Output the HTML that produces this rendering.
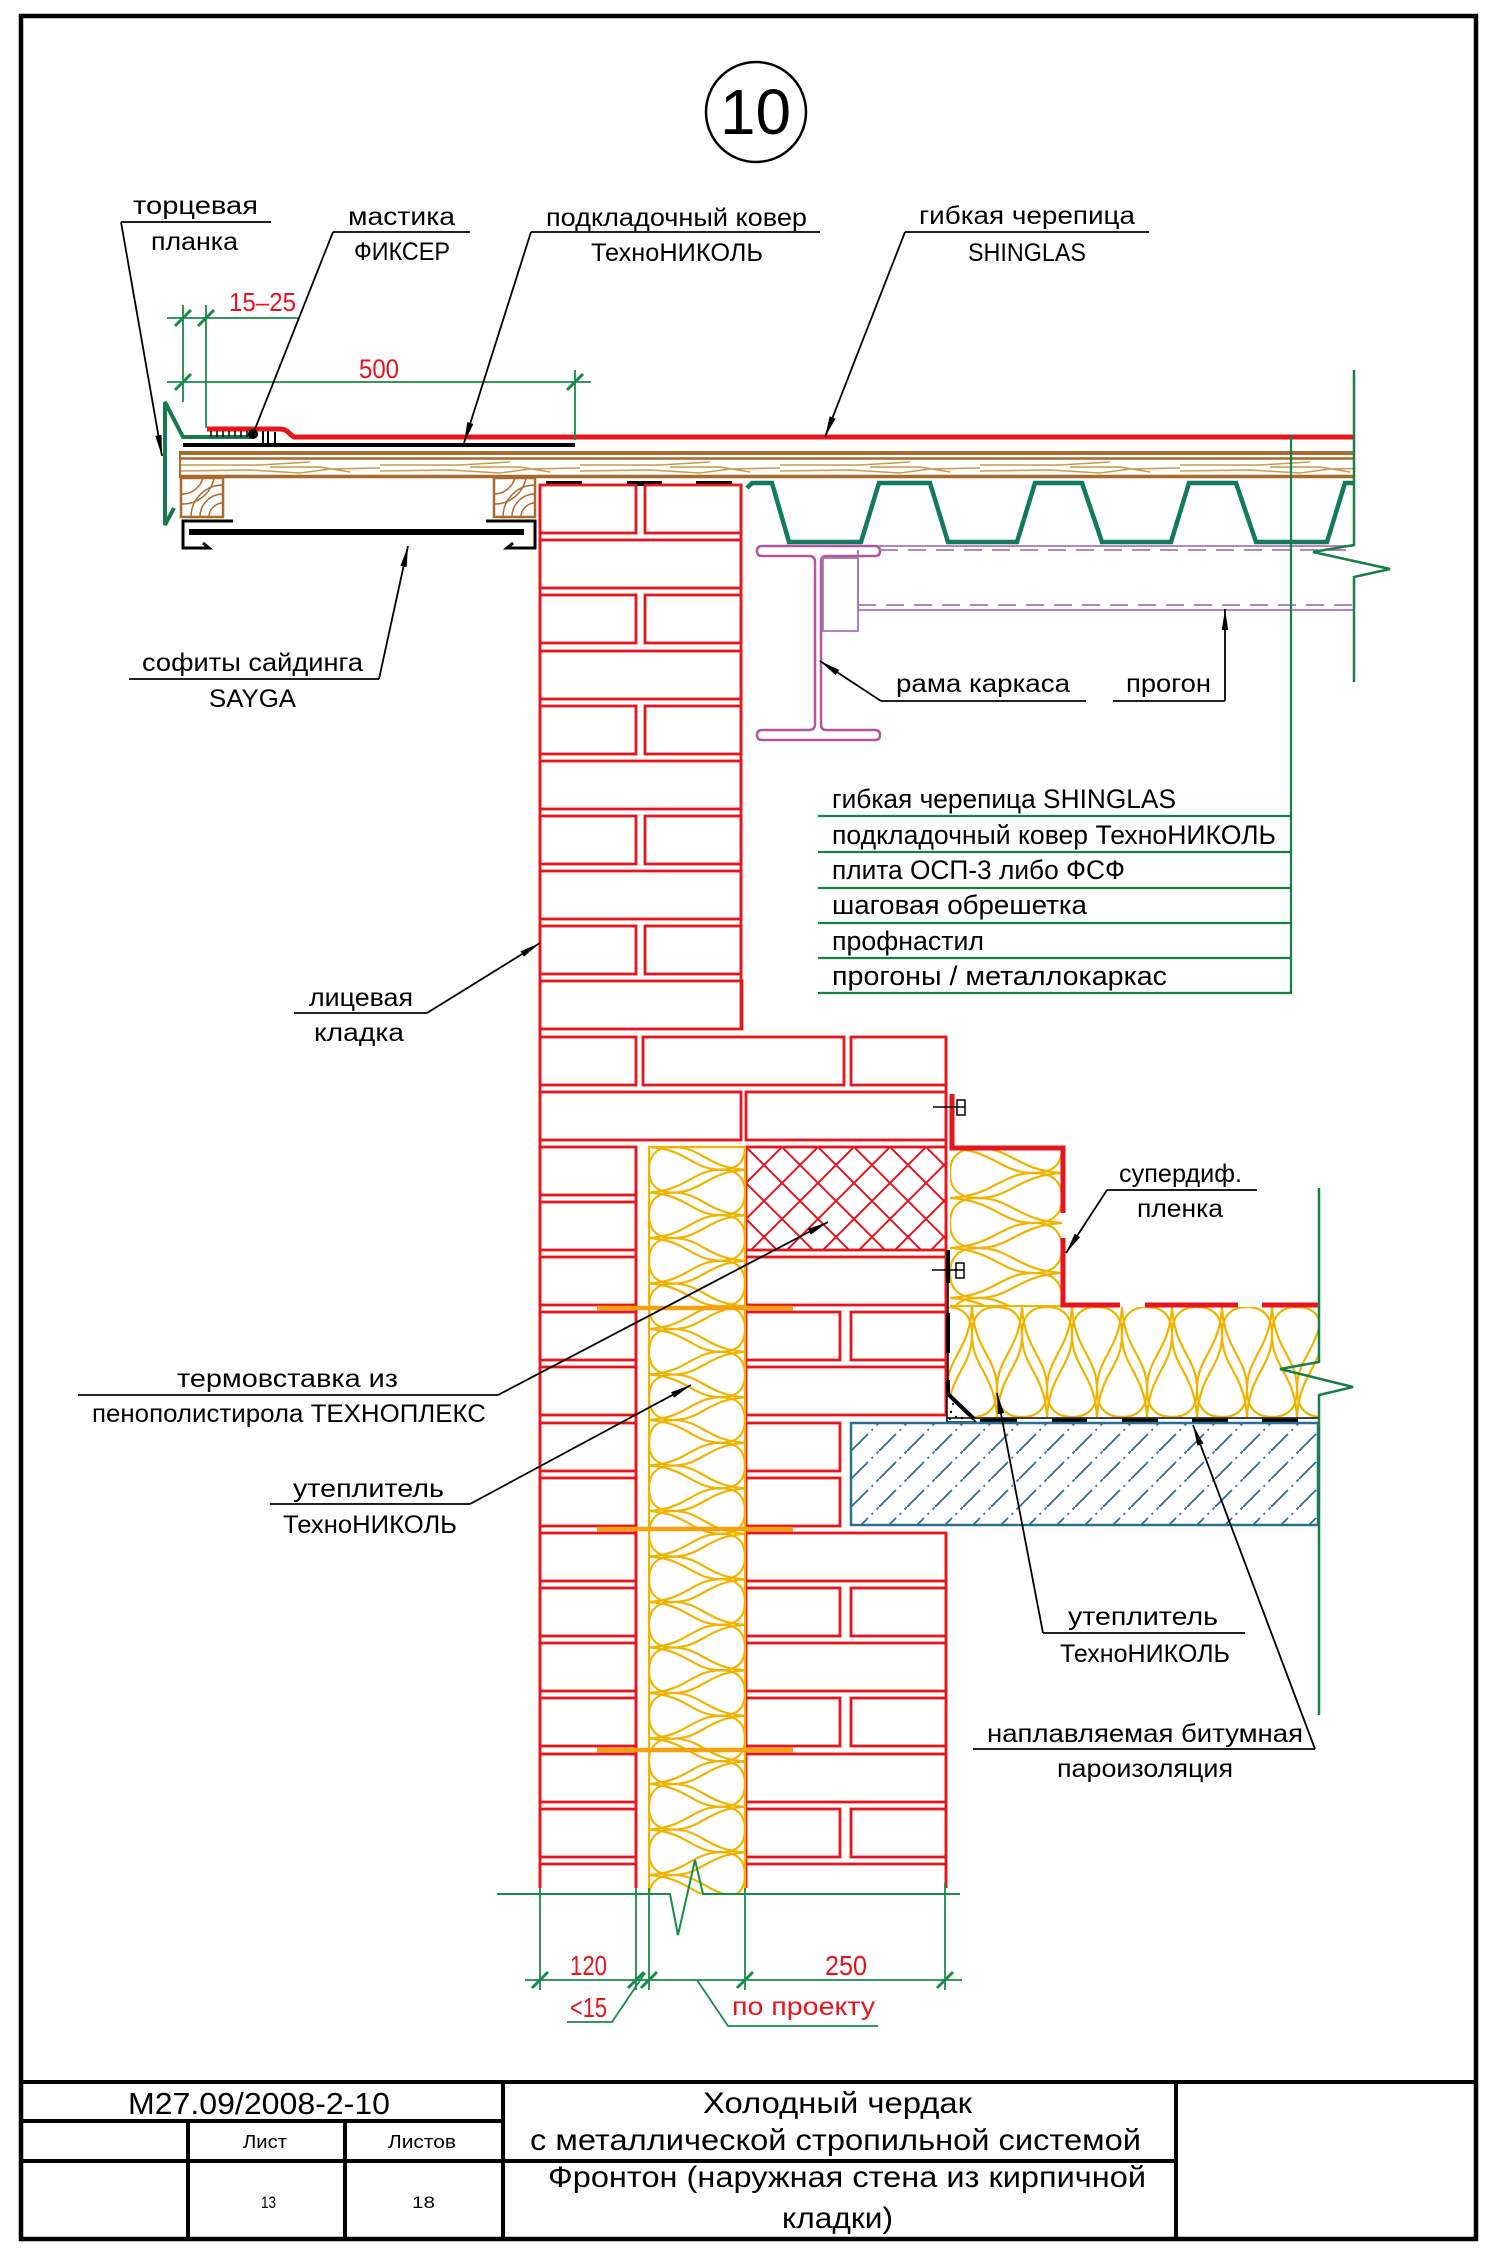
<!DOCTYPE html>
<html><head><meta charset="utf-8"><style>
html,body{margin:0;padding:0;background:#fff;}
svg{display:block;}
text{font-family:"Liberation Sans","DejaVu Sans",sans-serif;}
</style></head><body>
<svg xmlns="http://www.w3.org/2000/svg" width="1491" height="2255" viewBox="0 0 1491 2255">
<defs>
<marker id="ar" markerUnits="userSpaceOnUse" markerWidth="22" markerHeight="8" refX="21" refY="4" orient="auto"><path d="M0,0.8 L21,4 L0,7.2 Z" fill="#000"/></marker>
<path id="lb" d="M1,0 C0.6,-0.05 0.55,-0.5 0.25,-0.5 C0.05,-0.5 0,-0.25 0,0 C0,0.25 0.05,0.5 0.25,0.5 C0.55,0.5 0.6,0.05 1,0" fill="none" stroke="#f0b400" stroke-width="2.2" vector-effect="non-scaling-stroke"/>
<pattern id="xps" patternUnits="userSpaceOnUse" x="746" y="1147" width="36" height="36"><path d="M0,0L36,36M36,0L0,36" stroke="#e8141c" stroke-width="2"/></pattern>
<pattern id="conc" patternUnits="userSpaceOnUse" x="851" y="1423" width="28" height="28"><path d="M0,28L28,0" stroke="#2a6e96" stroke-width="1.8" stroke-dasharray="24 5 2 5"/></pattern>
<pattern id="grain" patternUnits="userSpaceOnUse" x="180" y="459" width="200" height="18"><path d="M0,6 L80,6 L130,3 M0,12 L70,11 L120,14 L150,10 L200,9 M90,8 L140,8 L170,13" stroke="#c9994f" stroke-width="1.6" fill="none"/></pattern>
<clipPath id="cA"><rect x="649" y="1147" width="96" height="747"/></clipPath>
<clipPath id="cB"><rect x="950" y="1148" width="112" height="157"/></clipPath>
<clipPath id="cC"><rect x="948" y="1307" width="370" height="110"/></clipPath>
</defs>
<rect width="1491" height="2255" fill="#fff"/>

<!-- frame -->
<rect x="21" y="16" width="1455" height="2223" fill="none" stroke="#000" stroke-width="4.5"/>

<!-- circle 10 -->
<circle cx="756" cy="112" r="50" fill="none" stroke="#000" stroke-width="2.5"/>
<text x="720" y="134" font-size="64" textLength="71" lengthAdjust="spacingAndGlyphs">10</text>

<!-- ===== ROOF ===== -->
<!-- wood board -->
<rect x="180" y="459" width="1174" height="17" fill="url(#grain)"/>
<g stroke="#a86b2d" fill="none">
<line x1="180" y1="453" x2="1354" y2="453" stroke-width="4"/>
<line x1="180" y1="458.5" x2="1354" y2="458.5" stroke-width="2.5"/>
<line x1="180" y1="476.5" x2="1354" y2="476.5" stroke-width="3.5"/>
<line x1="180" y1="451" x2="180" y2="478" stroke-width="2"/>
<!-- battens -->
<rect x="181" y="478" width="42" height="39" stroke-width="2.5"/>
<path d="M223,485 A32,32 0 0 0 191,517 M223,494 A23,23 0 0 0 200,517 M223,503 A14,14 0 0 0 209,517 M214,478 A32,32 0 0 1 181,504 M203,478 A22,22 0 0 1 181,494" stroke-width="1.5"/>
<rect x="494" y="478" width="41" height="39" stroke-width="2.5"/>
<path d="M535,485 A32,32 0 0 0 503,517 M535,494 A23,23 0 0 0 512,517 M535,503 A14,14 0 0 0 521,517 M526,478 A32,32 0 0 1 494,504 M515,478 A22,22 0 0 1 494,494" stroke-width="1.5"/>
</g>
<!-- underlay black -->
<line x1="183" y1="445" x2="575" y2="445" stroke="#000" stroke-width="4"/>
<!-- green flashing -->
<path d="M174,508 L165,525 L165,402 L183,437 L254,437" fill="none" stroke="#167a4a" stroke-width="4" stroke-linejoin="miter"/>
<!-- mastic + shingle red -->
<path d="M207,429 L280,429 Q286,429 290,434 L294,437 L1354,437" fill="none" stroke="#e8141c" stroke-width="5"/>
<g stroke="#000" stroke-width="1.5">
<line x1="211" y1="431" x2="211" y2="437"/><line x1="217" y1="431" x2="217" y2="437"/><line x1="223" y1="431" x2="223" y2="437"/><line x1="229" y1="431" x2="229" y2="437"/><line x1="235" y1="431" x2="235" y2="437"/><line x1="241" y1="431" x2="241" y2="437"/><line x1="247" y1="431" x2="247" y2="437"/>
<line x1="263" y1="431" x2="263" y2="444" stroke-width="2"/><line x1="268" y1="431" x2="268" y2="444" stroke-width="2"/><line x1="275" y1="432" x2="275" y2="444" stroke-width="2"/>
</g>
<circle cx="253" cy="434" r="5" fill="#000"/>
<!-- soffit -->
<line x1="189" y1="532" x2="524" y2="532" stroke="#000" stroke-width="6"/>
<path d="M233,521 L183,521 L183,548 L209,548 L203,543 M486,521 L535,521 L535,548 L507,548 L513,543" fill="none" stroke="#000" stroke-width="3"/>
<!-- pads on brick -->
<rect x="546" y="481" width="36" height="5" fill="#000"/>
<rect x="627" y="481" width="35" height="5" fill="#000"/>
<rect x="696" y="481" width="36" height="5" fill="#000"/>

<!-- profiled deck -->
<path d="M747,488 L752,483 L772,483 L789,542 L861,542 L879,483 L930,483 L948,542 L1017,542 L1035,483 L1082,483 L1102,542 L1171,542 L1189,483 L1236,483 L1256,542 L1327,542 L1345,483 L1354,483" fill="none" stroke="#137a5e" stroke-width="4.5"/>

<!-- I-beam and purlin -->
<g fill="none" stroke="#b2579f" stroke-width="2.5">
<path d="M762,546 L875,546 Q880,546 880,551 Q880,556 875,556 L826,556 Q821,556 821,562 L821,724 Q821,730 826,730 L875,730 Q880,730 880,735 Q880,740 875,740 L762,740 Q757,740 757,735 Q757,730 762,730 L809,730 Q815,730 815,724 L815,562 Q815,556 809,556 L762,556 Q757,556 757,551 Q757,546 762,546 Z"/>
</g>
<g fill="none" stroke="#a874b4" stroke-width="1.8">
<line x1="879" y1="546" x2="1354" y2="546"/>
<line x1="880" y1="550" x2="1354" y2="550" stroke-dasharray="18 10"/>
<line x1="858" y1="605" x2="1354" y2="605" stroke-dasharray="18 10"/>
<line x1="858" y1="610" x2="1354" y2="610"/>
<rect x="823" y="558" width="35" height="73"/>
<line x1="858" y1="550" x2="858" y2="612"/>
</g>

<!-- right green break line roof -->
<path d="M1354,370 L1354,545 L1313,552 L1390,569 L1354,577 L1354,682" fill="none" stroke="#178048" stroke-width="2.5"/>
<!-- list leader vertical -->
<line x1="1291" y1="435" x2="1291" y2="994" stroke="#178048" stroke-width="2.2"/>
<g stroke="#178048" stroke-width="2.2">
<line x1="818" y1="816" x2="1291" y2="816"/>
<line x1="818" y1="852" x2="1291" y2="852"/>
<line x1="818" y1="888" x2="1291" y2="888"/>
<line x1="818" y1="923" x2="1291" y2="923"/>
<line x1="818" y1="958" x2="1291" y2="958"/>
<line x1="818" y1="993" x2="1291" y2="993"/>
</g>
<g font-size="27" fill="#000">
<text x="832" y="808" textLength="344" lengthAdjust="spacingAndGlyphs">гибкая черепица SHINGLAS</text>
<text x="832" y="844" textLength="444" lengthAdjust="spacingAndGlyphs">подкладочный ковер ТехноНИКОЛЬ</text>
<text x="832" y="879" textLength="293" lengthAdjust="spacingAndGlyphs">плита ОСП-3 либо ФСФ</text>
<text x="832" y="914" textLength="255" lengthAdjust="spacingAndGlyphs">шаговая обрешетка</text>
<text x="832" y="950" textLength="152" lengthAdjust="spacingAndGlyphs">профнастил</text>
<text x="832" y="985" textLength="335" lengthAdjust="spacingAndGlyphs">прогоны / металлокаркас</text>
</g>

<!-- top dimensions -->
<g stroke="#178a4c" stroke-width="1.8" fill="none">
<line x1="167" y1="318" x2="299" y2="318"/>
<line x1="167" y1="382" x2="591" y2="382"/>
<line x1="183" y1="305" x2="183" y2="402"/>
<line x1="206" y1="305" x2="206" y2="428"/>
<line x1="575" y1="370" x2="575" y2="440"/>
</g>
<g stroke="#178a4c" stroke-width="3">
<line x1="175" y1="326" x2="191" y2="310"/><line x1="198" y1="326" x2="214" y2="310"/>
<line x1="175" y1="390" x2="191" y2="374"/><line x1="567" y1="390" x2="583" y2="374"/>
</g>
<text x="229" y="311" font-size="26" fill="#e8141c" textLength="67" lengthAdjust="spacingAndGlyphs">15–25</text>
<text x="359" y="378" font-size="27" fill="#e8141c" textLength="40" lengthAdjust="spacingAndGlyphs">500</text>

<!-- ===== WALL ===== -->
<g fill="none" stroke="#e8141c" stroke-width="2.8">
<!-- upper wall -->
<rect x="540" y="485" width="96" height="48"/><rect x="645" y="485" width="96" height="48"/>
<rect x="540" y="540" width="201" height="48"/>
<rect x="540" y="595" width="96" height="48"/><rect x="645" y="595" width="96" height="48"/>
<rect x="540" y="651" width="201" height="48"/>
<rect x="540" y="706" width="96" height="48"/><rect x="645" y="706" width="96" height="48"/>
<rect x="540" y="761" width="201" height="48"/>
<rect x="540" y="816" width="96" height="48"/><rect x="645" y="816" width="96" height="48"/>
<rect x="540" y="871" width="201" height="48"/>
<rect x="540" y="926" width="96" height="48"/><rect x="645" y="926" width="96" height="48"/>
<rect x="540" y="981" width="202" height="48"/>
<rect x="540" y="1037" width="96" height="48"/><rect x="643" y="1037" width="201" height="48"/><rect x="851" y="1037" width="95" height="48"/>
<rect x="540" y="1092" width="201" height="48"/><rect x="746" y="1092" width="200" height="48"/>
<!-- left column -->
<rect x="540" y="1147" width="96" height="48"/>
<rect x="540" y="1202" width="96" height="48"/>
<rect x="540" y="1257" width="96" height="48"/>
<rect x="540" y="1312" width="96" height="48"/>
<rect x="540" y="1367" width="96" height="48"/>
<rect x="540" y="1423" width="96" height="48"/>
<rect x="540" y="1478" width="96" height="48"/>
<rect x="540" y="1533" width="96" height="48"/>
<rect x="540" y="1588" width="96" height="48"/>
<rect x="540" y="1643" width="96" height="48"/>
<rect x="540" y="1698" width="96" height="48"/>
<rect x="540" y="1754" width="96" height="48"/>
<rect x="540" y="1809" width="96" height="48"/>
<path d="M540,1888 L540,1864 L636,1864 L636,1888"/>
<!-- right column -->
<rect x="746" y="1257" width="200" height="48"/>
<rect x="746" y="1312" width="94" height="48"/><rect x="851" y="1312" width="95" height="48"/>
<rect x="746" y="1367" width="200" height="48"/>
<rect x="746" y="1423" width="94" height="48"/>
<rect x="746" y="1478" width="94" height="48"/>
<rect x="746" y="1533" width="200" height="48"/>
<rect x="746" y="1588" width="94" height="48"/><rect x="851" y="1588" width="95" height="48"/>
<rect x="746" y="1643" width="200" height="48"/>
<rect x="746" y="1698" width="94" height="48"/><rect x="851" y="1698" width="95" height="48"/>
<rect x="746" y="1754" width="200" height="48"/>
<rect x="746" y="1809" width="94" height="48"/><rect x="851" y="1809" width="95" height="48"/>
<path d="M746,1888 L746,1864 L946,1864 L946,1888"/>
<!-- continuous edges -->
<line x1="540" y1="485" x2="540" y2="1888"/>
<line x1="741" y1="485" x2="741" y2="1029"/>
<line x1="636" y1="1147" x2="636" y2="1888"/>
<line x1="746" y1="1147" x2="746" y2="1888"/>
<line x1="946" y1="1037" x2="946" y2="1416"/>
<line x1="946" y1="1533" x2="946" y2="1888"/>
</g>
<!-- XPS block -->
<rect x="746" y="1147" width="200" height="103" fill="url(#xps)" stroke="#e8141c" stroke-width="2.8"/>

<!-- wall insulation strip -->
<g clip-path="url(#cA)">
<use href="#lb" transform="translate(649,1169.8) scale(96,45.5)"/>
<use href="#lb" transform="translate(649,1215.3) scale(96,45.5)"/>
<use href="#lb" transform="translate(649,1260.8) scale(96,45.5)"/>
<use href="#lb" transform="translate(649,1306.3) scale(96,45.5)"/>
<use href="#lb" transform="translate(649,1351.8) scale(96,45.5)"/>
<use href="#lb" transform="translate(649,1397.3) scale(96,45.5)"/>
<use href="#lb" transform="translate(649,1442.8) scale(96,45.5)"/>
<use href="#lb" transform="translate(649,1488.3) scale(96,45.5)"/>
<use href="#lb" transform="translate(649,1533.8) scale(96,45.5)"/>
<use href="#lb" transform="translate(649,1579.3) scale(96,45.5)"/>
<use href="#lb" transform="translate(649,1624.8) scale(96,45.5)"/>
<use href="#lb" transform="translate(649,1670.3) scale(96,45.5)"/>
<use href="#lb" transform="translate(649,1715.8) scale(96,45.5)"/>
<use href="#lb" transform="translate(649,1761.3) scale(96,45.5)"/>
<use href="#lb" transform="translate(649,1806.8) scale(96,45.5)"/>
<use href="#lb" transform="translate(649,1852.3) scale(96,45.5)"/>
<use href="#lb" transform="translate(649,1897.8) scale(96,45.5)"/>
<use href="#lb" transform="translate(745,1147) scale(-96,45.5)"/>
<use href="#lb" transform="translate(745,1192.5) scale(-96,45.5)"/>
<use href="#lb" transform="translate(745,1238) scale(-96,45.5)"/>
<use href="#lb" transform="translate(745,1283.5) scale(-96,45.5)"/>
<use href="#lb" transform="translate(745,1329) scale(-96,45.5)"/>
<use href="#lb" transform="translate(745,1374.5) scale(-96,45.5)"/>
<use href="#lb" transform="translate(745,1420) scale(-96,45.5)"/>
<use href="#lb" transform="translate(745,1465.5) scale(-96,45.5)"/>
<use href="#lb" transform="translate(745,1511) scale(-96,45.5)"/>
<use href="#lb" transform="translate(745,1556.5) scale(-96,45.5)"/>
<use href="#lb" transform="translate(745,1602) scale(-96,45.5)"/>
<use href="#lb" transform="translate(745,1647.5) scale(-96,45.5)"/>
<use href="#lb" transform="translate(745,1693) scale(-96,45.5)"/>
<use href="#lb" transform="translate(745,1738.5) scale(-96,45.5)"/>
<use href="#lb" transform="translate(745,1784) scale(-96,45.5)"/>
<use href="#lb" transform="translate(745,1829.5) scale(-96,45.5)"/>
<use href="#lb" transform="translate(745,1875) scale(-96,45.5)"/>
</g>
<g stroke="#f0b400" stroke-width="2.2" fill="none">
<path d="M649,1894 L649,1147 L745,1147 L745,1894"/>
</g>
<!-- ties -->
<g stroke="#f5a10f" stroke-width="4.5">
<line x1="597" y1="1308" x2="793" y2="1308"/>
<line x1="597" y1="1529" x2="793" y2="1529"/>
<line x1="597" y1="1750" x2="793" y2="1750"/>
</g>

<!-- right insulation vertical -->
<g clip-path="url(#cB)">
<use href="#lb" transform="translate(950,1173) scale(112,50)"/>
<use href="#lb" transform="translate(950,1223) scale(112,50)"/>
<use href="#lb" transform="translate(950,1273) scale(112,50)"/>
<use href="#lb" transform="translate(950,1323) scale(112,50)"/>
<use href="#lb" transform="translate(1062,1148) scale(-112,50)"/>
<use href="#lb" transform="translate(1062,1198) scale(-112,50)"/>
<use href="#lb" transform="translate(1062,1248) scale(-112,50)"/>
<use href="#lb" transform="translate(1062,1298) scale(-112,50)"/>
</g>
<line x1="950" y1="1306" x2="1062" y2="1306" stroke="#f0b400" stroke-width="2"/>
<!-- horizontal insulation -->
<g clip-path="url(#cC)">
<use href="#lb" transform="translate(947,1307) rotate(90) scale(110,50)"/>
<use href="#lb" transform="translate(997,1307) rotate(90) scale(110,50)"/>
<use href="#lb" transform="translate(1047,1307) rotate(90) scale(110,50)"/>
<use href="#lb" transform="translate(1097,1307) rotate(90) scale(110,50)"/>
<use href="#lb" transform="translate(1147,1307) rotate(90) scale(110,50)"/>
<use href="#lb" transform="translate(1197,1307) rotate(90) scale(110,50)"/>
<use href="#lb" transform="translate(1247,1307) rotate(90) scale(110,50)"/>
<use href="#lb" transform="translate(1297,1307) rotate(90) scale(110,50)"/>
<use href="#lb" transform="translate(972,1417) rotate(-90) scale(110,50)"/>
<use href="#lb" transform="translate(1022,1417) rotate(-90) scale(110,50)"/>
<use href="#lb" transform="translate(1072,1417) rotate(-90) scale(110,50)"/>
<use href="#lb" transform="translate(1122,1417) rotate(-90) scale(110,50)"/>
<use href="#lb" transform="translate(1172,1417) rotate(-90) scale(110,50)"/>
<use href="#lb" transform="translate(1222,1417) rotate(-90) scale(110,50)"/>
<use href="#lb" transform="translate(1272,1417) rotate(-90) scale(110,50)"/>
<use href="#lb" transform="translate(1322,1417) rotate(-90) scale(110,50)"/>
</g>

<!-- membrane red -->
<path d="M952,1094 L952,1148 L1063,1148 L1063,1213 M1063,1238 L1063,1305 L1120,1305 M1145,1305 L1238,1305 M1262,1305 L1318,1305" fill="none" stroke="#e8141c" stroke-width="5"/>
<!-- fasteners -->
<g stroke="#000" stroke-width="1.5" fill="none">
<line x1="933" y1="1107" x2="965" y2="1107"/><rect x="957" y="1100" width="8" height="15"/>
<line x1="932" y1="1270" x2="964" y2="1270"/><rect x="956" y="1263" width="8" height="15"/>
<line x1="948" y1="1250" x2="948" y2="1393"/>
</g>
<g stroke="#000" stroke-width="4">
<line x1="948" y1="1250" x2="948" y2="1283"/>
<line x1="948" y1="1313" x2="948" y2="1353"/>
<line x1="948" y1="1380" x2="948" y2="1393"/>
</g>
<polygon points="947,1393 947,1422 976,1422" fill="#fff" stroke="#000" stroke-width="1.5"/>
<g fill="#000"><circle cx="951" cy="1412" r="1.2"/><circle cx="956" cy="1417" r="1.2"/><circle cx="953" cy="1404" r="1"/><circle cx="962" cy="1418" r="1.2"/><circle cx="950" cy="1419" r="1"/></g>
<line x1="948" y1="1394" x2="974" y2="1419" stroke="#000" stroke-width="4"/>
<!-- vapor barrier -->
<line x1="947" y1="1418" x2="1318" y2="1418" stroke="#000" stroke-width="1.5"/>
<g stroke="#000" stroke-width="4.5">
<line x1="980" y1="1421" x2="1017" y2="1421"/>
<line x1="1052" y1="1421" x2="1087" y2="1421"/>
<line x1="1122" y1="1421" x2="1158" y2="1421"/>
<line x1="1192" y1="1421" x2="1228" y2="1421"/>
<line x1="1262" y1="1421" x2="1298" y2="1421"/>
</g>
<!-- slab -->
<rect x="851" y="1423" width="467" height="102" fill="url(#conc)" stroke="#2a6e96" stroke-width="2.5"/>
<!-- right green break -->
<path d="M1319,1188 L1319,1362 L1280,1369 L1353,1387 L1319,1395 L1319,1715" fill="none" stroke="#178048" stroke-width="2.5"/>

<!-- bottom break line & dims -->
<path d="M497,1894 L670,1894 L678,1935 L695,1860 L703,1894 L960,1894" fill="none" stroke="#178a4c" stroke-width="2"/>
<g stroke="#178a4c" stroke-width="1.8" fill="none">
<line x1="525" y1="1980" x2="962" y2="1980"/>
<line x1="540" y1="1888" x2="540" y2="1990"/>
<line x1="636" y1="1888" x2="636" y2="1990"/>
<line x1="649" y1="1888" x2="649" y2="1990"/>
<line x1="745" y1="1888" x2="745" y2="1990"/>
<line x1="945" y1="1883" x2="945" y2="1990"/>
<path d="M567,2022 L612,2022 L645,1973"/>
<path d="M878,2026 L728,2026 L697,1980"/>
</g>
<g stroke="#178a4c" stroke-width="3">
<line x1="532" y1="1988" x2="548" y2="1972"/>
<line x1="628" y1="1988" x2="644" y2="1972"/>
<line x1="641" y1="1988" x2="657" y2="1972"/>
<line x1="737" y1="1988" x2="753" y2="1972"/>
<line x1="937" y1="1988" x2="953" y2="1972"/>
</g>
<g fill="#e8141c" font-size="28">
<text x="570" y="1975" textLength="37" lengthAdjust="spacingAndGlyphs">120</text>
<text x="825" y="1975" textLength="42" lengthAdjust="spacingAndGlyphs">250</text>
<text x="570" y="2017" textLength="37" lengthAdjust="spacingAndGlyphs">&lt;15</text>
<text x="732" y="2015" font-size="25" textLength="143" lengthAdjust="spacingAndGlyphs">по проекту</text>
</g>

<!-- ===== LEADERS ===== -->
<g stroke="#000" stroke-width="1.8" fill="none">
<line x1="121" y1="222" x2="271" y2="222"/>
<line x1="121" y1="222" x2="162" y2="456" marker-end="url(#ar)"/>
<line x1="333" y1="232" x2="470" y2="232"/>
<line x1="333" y1="232" x2="253" y2="434"/>
<line x1="531" y1="232" x2="820" y2="232"/>
<line x1="531" y1="232" x2="464" y2="443" marker-end="url(#ar)"/>
<line x1="905" y1="232" x2="1149" y2="232"/>
<line x1="905" y1="232" x2="825" y2="437" marker-end="url(#ar)"/>
<line x1="129" y1="679" x2="379" y2="679"/>
<line x1="379" y1="679" x2="408" y2="546" marker-end="url(#ar)"/>
<line x1="881" y1="701" x2="1086" y2="701"/>
<line x1="881" y1="701" x2="820" y2="661" marker-end="url(#ar)"/>
<line x1="1113" y1="701" x2="1225" y2="701"/>
<line x1="1225" y1="701" x2="1225" y2="609" marker-end="url(#ar)"/>
<line x1="294" y1="1013" x2="427" y2="1013"/>
<line x1="427" y1="1013" x2="540" y2="943" marker-end="url(#ar)"/>
<line x1="1107" y1="1190" x2="1257" y2="1190"/>
<line x1="1107" y1="1190" x2="1066" y2="1253" marker-end="url(#ar)"/>
<line x1="78" y1="1395" x2="498" y2="1395"/>
<line x1="498" y1="1395" x2="828" y2="1222" marker-end="url(#ar)"/>
<line x1="270" y1="1504" x2="470" y2="1504"/>
<line x1="470" y1="1504" x2="691" y2="1385" marker-end="url(#ar)"/>
<line x1="1043" y1="1633" x2="1245" y2="1633"/>
<line x1="1043" y1="1633" x2="997" y2="1393" marker-end="url(#ar)"/>
<line x1="973" y1="1749" x2="1315" y2="1749"/>
<line x1="1315" y1="1749" x2="1193" y2="1425" marker-end="url(#ar)"/>
</g>

<!-- ===== LABELS ===== -->
<g font-size="25" fill="#000">
<text x="133" y="214" textLength="125" lengthAdjust="spacingAndGlyphs">торцевая</text>
<text x="151" y="250" textLength="87" lengthAdjust="spacingAndGlyphs">планка</text>
<text x="348" y="225" textLength="107" lengthAdjust="spacingAndGlyphs">мастика</text>
<text x="354" y="260" textLength="96" lengthAdjust="spacingAndGlyphs">ФИКСЕР</text>
<text x="546" y="226" textLength="261" lengthAdjust="spacingAndGlyphs">подкладочный ковер</text>
<text x="591" y="261" textLength="172" lengthAdjust="spacingAndGlyphs">ТехноНИКОЛЬ</text>
<text x="919" y="224" textLength="216" lengthAdjust="spacingAndGlyphs">гибкая черепица</text>
<text x="968" y="261" textLength="118" lengthAdjust="spacingAndGlyphs">SHINGLAS</text>
<text x="142" y="671" textLength="221" lengthAdjust="spacingAndGlyphs">софиты сайдинга</text>
<text x="209" y="707" textLength="87" lengthAdjust="spacingAndGlyphs">SAYGA</text>
<text x="896" y="692" textLength="174" lengthAdjust="spacingAndGlyphs">рама каркаса</text>
<text x="1126" y="692" textLength="85" lengthAdjust="spacingAndGlyphs">прогон</text>
<text x="309" y="1006" textLength="104" lengthAdjust="spacingAndGlyphs">лицевая</text>
<text x="314" y="1041" textLength="90" lengthAdjust="spacingAndGlyphs">кладка</text>
<text x="1119" y="1182" textLength="123" lengthAdjust="spacingAndGlyphs">супердиф.</text>
<text x="1137" y="1217" textLength="86" lengthAdjust="spacingAndGlyphs">пленка</text>
<text x="177" y="1387" textLength="221" lengthAdjust="spacingAndGlyphs">термовставка из</text>
<text x="92" y="1422" textLength="394" lengthAdjust="spacingAndGlyphs">пенополистирола ТЕХНОПЛЕКС</text>
<text x="293" y="1497" textLength="151" lengthAdjust="spacingAndGlyphs">утеплитель</text>
<text x="283" y="1533" textLength="174" lengthAdjust="spacingAndGlyphs">ТехноНИКОЛЬ</text>
<text x="1068" y="1625" textLength="150" lengthAdjust="spacingAndGlyphs">утеплитель</text>
<text x="1060" y="1662" textLength="170" lengthAdjust="spacingAndGlyphs">ТехноНИКОЛЬ</text>
<text x="987" y="1742" textLength="316" lengthAdjust="spacingAndGlyphs">наплавляемая битумная</text>
<text x="1057" y="1777" textLength="176" lengthAdjust="spacingAndGlyphs">пароизоляция</text>
</g>

<!-- ===== TITLE BLOCK ===== -->
<g stroke="#000" stroke-width="4" fill="none">
<line x1="21" y1="2082" x2="1476" y2="2082"/>
<line x1="503" y1="2082" x2="503" y2="2239"/>
<line x1="1176" y1="2082" x2="1176" y2="2239"/>
<line x1="21" y1="2121" x2="503" y2="2121"/>
<line x1="21" y1="2161" x2="1176" y2="2161"/>
<line x1="188" y1="2121" x2="188" y2="2239"/>
<line x1="345" y1="2121" x2="345" y2="2239"/>
</g>
<g fill="#000">
<text x="128" y="2114" font-size="31" textLength="262" lengthAdjust="spacingAndGlyphs">М27.09/2008-2-10</text>
<text x="243" y="2148" font-size="18" textLength="44" lengthAdjust="spacingAndGlyphs">Лист</text>
<text x="388" y="2148" font-size="18" textLength="68" lengthAdjust="spacingAndGlyphs">Листов</text>
<text x="261" y="2208" font-size="17" textLength="15" lengthAdjust="spacingAndGlyphs">13</text>
<text x="412" y="2208" font-size="17" textLength="23" lengthAdjust="spacingAndGlyphs">18</text>
<text x="703" y="2113" font-size="30" textLength="269" lengthAdjust="spacingAndGlyphs">Холодный чердак</text>
<text x="530" y="2150" font-size="30" textLength="611" lengthAdjust="spacingAndGlyphs">с металлической стропильной системой</text>
<text x="548" y="2187" font-size="30" textLength="598" lengthAdjust="spacingAndGlyphs">Фронтон (наружная стена из кирпичной</text>
<text x="782" y="2228" font-size="30" textLength="111" lengthAdjust="spacingAndGlyphs">кладки)</text>
</g>
</svg>
</body></html>
